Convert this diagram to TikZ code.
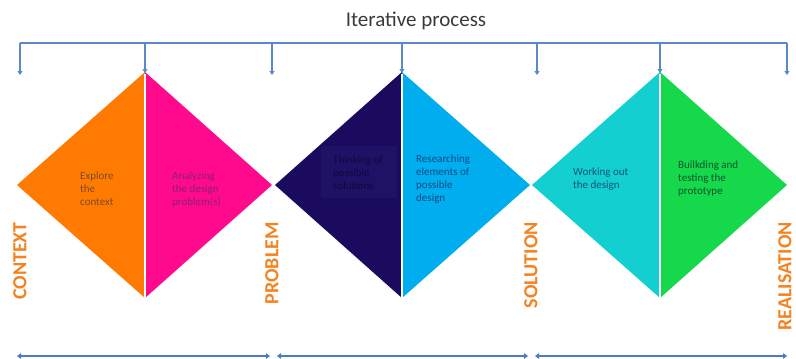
\documentclass[tikz,border=0pt]{standalone}
\usepackage{fontspec}
\setmainfont{Carlito}
\usetikzlibrary{arrows.meta}
\definecolor{cOrange}{HTML}{FF7A00}
\definecolor{cPink}{HTML}{FF0A8C}
\definecolor{cNavy}{HTML}{1B0B5E}
\definecolor{cNavyBox}{HTML}{1F1166}
\definecolor{cSky}{HTML}{00AEEF}
\definecolor{cCyan}{HTML}{14CFD0}
\definecolor{cGreen}{HTML}{15D84B}
\definecolor{cLine}{HTML}{5B88C6}
\definecolor{cSpan}{HTML}{4A7EBB}
\definecolor{cLabel}{HTML}{F58220}
\definecolor{cTitle}{HTML}{3A3A3A}
\definecolor{tOrange}{HTML}{7F4A2A}
\definecolor{tPink}{HTML}{8A1F78}
\definecolor{tNavy}{HTML}{0E083E}
\definecolor{tSky}{HTML}{0C4A85}
\definecolor{tCyan}{HTML}{0B5575}
\definecolor{tGreen}{HTML}{0B5532}
\newcommand{\stepLines}[1]{\begin{tabular}[t]{@{}l@{}}#1\end{tabular}}
\begin{document}
\begin{tikzpicture}[x=1pt,y=-1pt,
  bar/.style={draw=cLine, line width=1.8pt},
  drop/.style={bar, -{Triangle[length=4pt,width=5pt]}},
  span/.style={draw=cSpan, line width=2.4pt, {Triangle[length=4pt,width=5.5pt]}-{Triangle[length=4pt,width=5.5pt]}},
  phase/.style={font=\bfseries\fontsize{20}{20}\selectfont, text=cLabel, rotate=90, anchor=east, inner sep=0pt},
  stepText/.style={font=\fontsize{11}{13}\selectfont, anchor=base west, inner sep=0pt},
  sep/.style={draw=white, line width=1.2pt}
]
\useasboundingbox (0,0) rectangle (796,359);

% diamonds
\fill[cOrange] (145,72) -- (17,185) -- (145,298) -- cycle;
\fill[cPink]   (145,72) -- (272,185) -- (145,298) -- cycle;
\fill[cNavy]   (402,72) -- (275,185) -- (402,298) -- cycle;
\fill[cSky]    (402,72) -- (530,185) -- (402,298) -- cycle;
\fill[cCyan]   (660,72) -- (532,185) -- (660,298) -- cycle;
\fill[cGreen]  (660,72) -- (787,185) -- (660,298) -- cycle;
\fill[cNavyBox] (321,146) rectangle (397,198);
\draw[sep] (145,74) -- (145,298);
\draw[sep] (402,74) -- (402,298);
\draw[sep] (660,74) -- (660,298);

% title
\node[font=\fontsize{21}{21}\selectfont, text=cTitle, anchor=base, inner sep=0pt] (title) at (416,26) {Iterative process};

% top bracket
\coordinate (b1) at (20,43);
\coordinate (b2) at (145,43);
\coordinate (b3) at (272,43);
\coordinate (b4) at (402,43);
\coordinate (b5) at (537,43);
\coordinate (b6) at (660,43);
\coordinate (b7) at (787,43);
\coordinate (e1) at (20,75);
\coordinate (e2) at (145,73);
\coordinate (e3) at (272,75);
\coordinate (e4) at (402,73);
\coordinate (e5) at (537,75);
\coordinate (e6) at (660,73);
\coordinate (e7) at (787,75);
\draw[bar] (b1) -- (b7);
\foreach \i in {1,...,7} { \draw[drop] (b\i) -- (e\i); }

% step texts
\node[stepText, text=tOrange] (t1) at (80,179) {\stepLines{Explore\\the\\context}};
\node[stepText, text=tPink] (t2) at (172,179) {\stepLines{Analyzing\\the design\\problem(s)}};
\node[stepText, text=tNavy] (t3) at (333,163) {\stepLines{Thinking of\\possible\\solutions}};
\node[stepText, text=tSky] (t4) at (416,162) {\stepLines{Researching\\elements of\\possible\\design}};
\node[stepText, text=tCyan] (t5) at (573,175) {\stepLines{Working out\\the design}};
\node[stepText, text=tGreen] (t6) at (678,168) {\stepLines{Builkding and\\testing the\\prototype}};

% phase labels
\node[phase] (p1) at (20,222) {CONTEXT};
\node[phase] (p2) at (272,222) {PROBLEM};
\node[phase] (p3) at (531,222) {SOLUTION};
\node[phase] (p4) at (785,222) {REALISATION};

% bottom spans
\coordinate (s1a) at (17,356);
\coordinate (s1b) at (270,356);
\coordinate (s2a) at (277,356);
\coordinate (s2b) at (528,356);
\coordinate (s3a) at (535,356);
\coordinate (s3b) at (787,356);
\draw[span] (s1a) -- (s1b);
\draw[span] (s2a) -- (s2b);
\draw[span] (s3a) -- (s3b);
\end{tikzpicture}
\end{document}
